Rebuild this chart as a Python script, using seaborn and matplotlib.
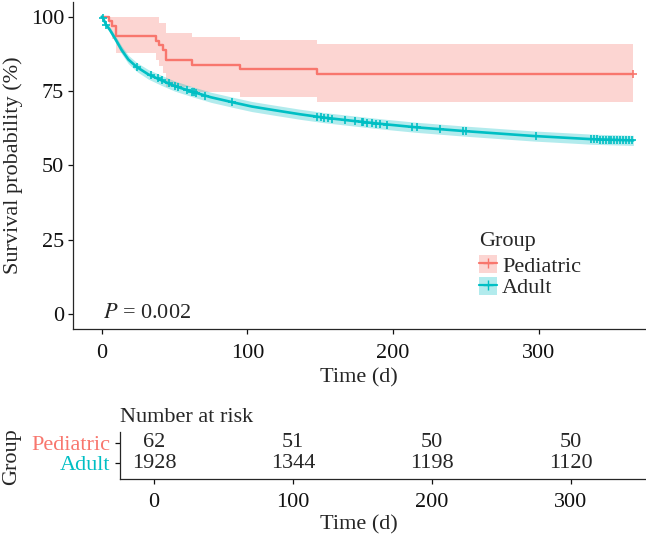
import numpy as np
import matplotlib
matplotlib.use("Agg")
import matplotlib.pyplot as plt
from matplotlib.patches import Patch
from matplotlib.lines import Line2D
import seaborn as sns

# Kaplan-Meier values (time in days, survival in %)
ped_time = [0, 5.0, 7.3, 9.6, 37.1, 39.3, 42.3, 43.9, 61.8, 94.9, 147.6, 365]
ped_surv = [100, 98.39, 96.77, 93.55, 91.94, 90.32, 88.71, 85.48, 83.87, 82.26, 80.65, 80.65]
ped_lower = [100, 95.5, 92.5, 87.7, 85.4, 83.3, 81.0, 76.5, 74.6, 73.0, 71.2, 71.2]
ped_upper = [100, 100, 100, 100, 100, 97.8, 97.8, 94.4, 93.3, 92.0, 90.8, 90.8]
ped_cens_time = [365]
ped_cens_surv = [80.65]

adult_time = [0, 1, 3, 5.7, 9.6, 13.7, 18.3, 24, 32, 41, 50, 62, 75, 91, 103, 118,
              136, 152, 170, 193, 216, 250, 296, 337, 365]
adult_surv = [100, 99.4, 97.3, 95.5, 92.3, 88.8, 85.6, 83.1, 80.6, 78.6, 76.7, 74.8, 72.9,
              71.1, 69.8, 68.6, 67.2, 66.1, 65.1, 63.9, 62.8, 61.5, 59.9, 58.8, 58.4]
adult_lower = [100, 99.1, 96.6, 94.6, 91.2, 87.5, 84.2, 81.6, 79.0, 76.9, 75.0, 73.1, 71.2,
               69.4, 68.1, 66.9, 65.5, 64.4, 63.4, 62.2, 61.1, 59.8, 58.2, 57.1, 56.7]
adult_upper = [100, 99.7, 98.0, 96.4, 93.4, 90.1, 87.0, 84.6, 82.2, 80.3, 78.4, 76.5, 74.6,
               72.8, 71.5, 70.3, 68.9, 67.8, 66.8, 65.6, 64.5, 63.2, 61.6, 60.5, 60.1]
adult_cens_time = [1.1, 2.9, 24.4, 33.6, 38.9, 41.2, 46.4, 50.3, 52.6, 58.8, 61.8, 63.4,
                   64.7, 70.9, 89.2, 147.6, 150.3, 152.6, 155.5, 158.3, 167, 173.9, 178.4,
                   179.6, 181.9, 185.3, 188.3, 191, 196, 212.8, 216.2, 232.2, 247.8, 249.8,
                   297.9, 336, 338, 340, 342, 344, 346, 348, 350, 352, 354, 356, 358, 360,
                   362, 364]
adult_cens_surv = [99.4, 97.3, 83.0, 80.5, 79.3, 78.6, 77.6, 76.7, 76.3, 75.3, 74.8, 74.6,
                   74.4, 73.4, 71.3, 66.4, 66.2, 66.0, 65.8, 65.6, 65.3, 64.9, 64.6,
                   64.5, 64.4, 64.2, 64.0, 63.9, 63.7, 63.0, 62.8, 62.3, 61.6, 61.5,
                   59.9, 58.8, 58.8, 58.8, 58.7, 58.7, 58.7, 58.6, 58.6, 58.6, 58.6, 58.5,
                   58.5, 58.5, 58.4, 58.4]

p_text = "= 0.002"

# number at risk table
risk_times = [0, 100, 200, 300]
risk_ped = [62, 51, 50, 50]
risk_adult = [1928, 1344, 1198, 1120]
groups = ["Pediatric", "Adult"]

c_ped = "#F8766D"
c_adult = "#00BFC4"

sns.set_theme(style="ticks")
plt.rcParams["font.family"] = ["Liberation Serif", "DejaVu Serif"]
plt.rcParams["mathtext.fontset"] = "stix"
plt.rcParams["axes.linewidth"] = 0.9
plt.rcParams["xtick.major.width"] = 0.9
plt.rcParams["ytick.major.width"] = 0.9
fs = 16

W, H = 646, 537
fig = plt.figure(figsize=(W / 100, H / 100), dpi=100)

# ---------------- main survival plot
ax = fig.add_axes([73.3 / W, 1 - 329 / H, (645 - 73.3) / W, (329 - 1.8) / H])

ax.fill_between(ped_time, ped_lower, ped_upper, step="post", color=c_ped, alpha=0.3, lw=0)
ax.fill_between(adult_time, adult_lower, adult_upper, color=c_adult, alpha=0.3, lw=0)
sns.lineplot(x=ped_time, y=ped_surv, ax=ax, color=c_ped, lw=1.7, drawstyle="steps-post",
             estimator=None, sort=False)
sns.lineplot(x=adult_time, y=adult_surv, ax=ax, color=c_adult, lw=1.9,
             estimator=None, sort=False)
sns.scatterplot(x=ped_cens_time, y=ped_cens_surv, ax=ax, marker="+", s=40,
                color=c_ped, linewidth=1.2, zorder=4)
sns.scatterplot(x=adult_cens_time, y=adult_cens_surv, ax=ax, marker="+", s=40,
                color=c_adult, linewidth=1.2, zorder=4)

ax.text(1, 0.2, r"$\it{P}$ " + p_text, fontsize=fs, ha="left", va="center")

ax.set_xlim(-19.5, 373)
ax.set_ylim(-5, 105)
ax.set_xticks([0, 100, 200, 300])
ax.set_yticks([0, 25, 50, 75, 100])
ax.tick_params(labelsize=fs, length=3.6, pad=3, colors="#111111", labelcolor="#111111")
ax.tick_params(axis="x", pad=7)
ax.set_xlabel("Time (d)", fontsize=fs)
ax.set_ylabel("Survival probability (%)", fontsize=fs)
ax.xaxis.set_label_coords(0.5, -0.119)
ax.yaxis.set_label_coords(-0.088, 0.5)
sns.despine(ax=ax)

handles = [
    (Patch(facecolor=c_ped, alpha=0.3, lw=0), Line2D([], [], color=c_ped, lw=1.6, marker="+", ms=7)),
    (Patch(facecolor=c_adult, alpha=0.3, lw=0), Line2D([], [], color=c_adult, lw=1.6, marker="+", ms=7)),
]
leg = ax.legend(handles, groups, title="Group", fontsize=fs, title_fontsize=fs,
                loc="upper left", bbox_to_anchor=(479 / W, 1 - 232 / H),
                bbox_transform=fig.transFigure, frameon=False, borderpad=0,
                handlelength=0.81, handleheight=0.86, handletextpad=0.23,
                labelspacing=0.0, borderaxespad=0, alignment="left")
leg._legend_box.sep = 3

# ---------------- number at risk table
ax2 = fig.add_axes([120 / W, 1 - 478.7 / H, (645 - 120) / W, (478.7 - 431.7) / H])
for t, n1, n2 in zip(risk_times, risk_ped, risk_adult):
    ax2.text(t, 2, str(n1), fontsize=fs, ha="center", va="center")
    ax2.text(t, 1, str(n2), fontsize=fs, ha="center", va="center")
ax2.set_xlim(-24.5, 353.2)
ax2.set_ylim(0.25, 2.53)
ax2.set_xticks(risk_times)
ax2.set_yticks([2, 1])
ax2.set_yticklabels(groups)
ax2.tick_params(labelsize=fs, length=3.6, pad=3.5, colors="#111111")
ax2.tick_params(axis="x", pad=6.5)
for lab, c in zip(ax2.get_yticklabels(), [c_ped, c_adult]):
    lab.set_color(c)
ax2.set_title("Number at risk", fontsize=fs, loc="left", pad=7)
ax2.set_xlabel("Time (d)", fontsize=fs)
ax2.set_ylabel("Group", fontsize=fs)
ax2.xaxis.set_label_coords(0.455, -0.77)
ax2.yaxis.set_label_coords(-0.188, 0.46)
sns.despine(ax=ax2)

fig.savefig("out.png", dpi=100)
